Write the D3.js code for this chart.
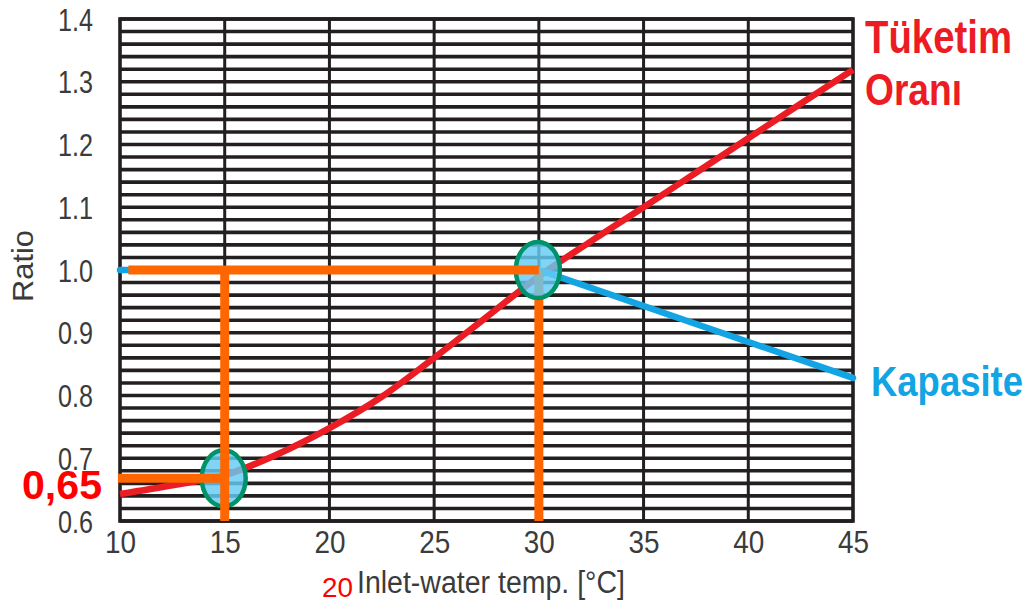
<!DOCTYPE html>
<html>
<head>
<meta charset="utf-8">
<script src="https://cdn.jsdelivr.net/npm/d3@7"></script>
<style>
  body { margin: 0; background: #fff; }
  svg { display: block; }
  text { font-family: "Liberation Sans Narrow", "Arial Narrow", "Liberation Sans", Arial, sans-serif; }
</style>
</head>
<body>
<svg></svg>
<script>
const width = 1030;
const height = 604;

// inlet water temperature (°C) vs ratio
const tempTicks = [10, 15, 20, 25, 30, 35, 40, 45];
const ratioTicks = [0.6, 0.7, 0.8, 0.9, 1.0, 1.1, 1.2, 1.3, 1.4];

const consumptionTemp = [10, 12.5, 15, 17.5, 20, 22.5, 25, 27.5, 30, 32.5, 35, 37.5, 40, 42.5, 45];
const consumptionRatio = [0.643, 0.657, 0.673, 0.706, 0.748, 0.798, 0.86, 0.925, 0.99, 1.046, 1.10, 1.155, 1.21, 1.265, 1.319];

const capacityTemp = [10, 30, 45];
const capacityRatio = [1.0, 1.0, 0.828];

const markTemp = [15, 30];
const markRatio = [0.668, 1.0];

const svg = d3.select('svg')
    .attr('width', width).attr('height', height);

const x = d3.scaleLinear().domain([10, 45]).range([120, 853]);
const y = d3.scaleLinear().domain([0.6, 1.4]).range([521, 19]);

const black = '#231f20';
const orange = '#ff6600';
const red = '#ec1c24';
const blue = '#13a4e3';

// grid: horizontal every 0.02, vertical every 5
const hLines = d3.range(0, 41).map(i => 0.6 + i * 0.02);
svg.append('g').selectAll('line')
    .data(hLines)
    .enter().append('line')
    .attr('x1', x(10)).attr('x2', x(45))
    .attr('y1', d => y(d)).attr('y2', d => y(d))
    .style('stroke', black)
    .style('stroke-width', 3.6);

svg.append('g').selectAll('line')
    .data(tempTicks.slice(1, -1))
    .enter().append('line')
    .attr('x1', d => x(d)).attr('x2', d => x(d))
    .attr('y1', y(1.4)).attr('y2', y(0.6))
    .style('stroke', black)
    .style('stroke-width', 3);

svg.append('rect')
    .attr('x', x(10)).attr('y', y(1.4))
    .attr('width', x(45) - x(10)).attr('height', y(0.6) - y(1.4))
    .style('fill', 'none')
    .style('stroke', black)
    .style('stroke-width', 3.6);

// axes
const xAxis = svg.append('g')
    .attr('transform', `translate(0,${y(0.6)})`)
    .call(d3.axisBottom(x).tickValues(tempTicks).tickSize(0).tickPadding(0));
xAxis.selectAll('text')
    .attr('y', 32).attr('dy', 0)
    .attr('textLength', 31).attr('lengthAdjust', 'spacingAndGlyphs')
    .style('font-size', '31px')
    .style('fill', '#3b3b3b');

const yAxis = svg.append('g')
    .attr('transform', `translate(93,0)`)
    .call(d3.axisLeft(y).tickValues(ratioTicks).tickFormat(d3.format('.1f')).tickSize(0).tickPadding(0));
yAxis.selectAll('text')
    .attr('dy', '0.36em')
    .attr('textLength', 35).attr('lengthAdjust', 'spacingAndGlyphs')
    .style('font-size', '31px')
    .style('fill', '#3b3b3b');
svg.selectAll('.domain').remove();

svg.append('text')
    .attr('x', 357).attr('y', 593)
    .attr('textLength', 268).attr('lengthAdjust', 'spacingAndGlyphs')
    .style('font-size', '31px')
    .style('fill', '#3b3b3b')
    .text('Inlet-water temp. [°C]');

svg.append('text')
    .attr('x', 322).attr('y', 597)
    .attr('textLength', 31).attr('lengthAdjust', 'spacingAndGlyphs')
    .style('font-family', '"Liberation Sans", Arial, sans-serif')
    .style('font-size', '28px')
    .style('fill', '#ff0000')
    .text('20');

svg.append('text')
    .attr('transform', 'translate(33,266) rotate(-90)')
    .attr('text-anchor', 'middle')
    .attr('textLength', 72).attr('lengthAdjust', 'spacingAndGlyphs')
    .style('font-size', '29px')
    .style('fill', '#3b3b3b')
    .text('Ratio');

// curves
const line = d3.line()
    .x(d => x(d[0]))
    .y(d => y(d[1]));

svg.append('path')
    .datum(consumptionTemp.map((t, i) => [t, consumptionRatio[i]]))
    .attr('d', line.curve(d3.curveMonotoneX))
    .style('fill', 'none')
    .style('stroke', red)
    .style('stroke-width', 6.5);

svg.append('path')
    .datum(capacityTemp.map((t, i) => [t, capacityRatio[i]]))
    .attr('d', line.curve(d3.curveLinear))
    .style('fill', 'none')
    .style('stroke', blue)
    .style('stroke-width', 6.5)
    .style('stroke-linecap', 'round');

// orange guide lines
function guide(x1, y1, x2, y2) {
    svg.append('line')
        .attr('x1', x(x1)).attr('y1', y(y1))
        .attr('x2', x(x2)).attr('y2', y(y2))
        .style('stroke', orange)
        .style('stroke-width', 9);
}

guide(markTemp[1], markRatio[1], markTemp[1], 0.6);

svg.append('g').selectAll('ellipse')
    .data(markTemp.map((t, i) => [t, markRatio[i]]))
    .enter().append('ellipse')
    .attr('cx', d => x(d[0]) - 1)
    .attr('cy', d => y(d[1]))
    .attr('rx', 22).attr('ry', 28)
    .style('fill', 'rgba(100, 204, 244, 0.82)')
    .style('stroke', '#00936a')
    .style('stroke-width', 4.5);

guide(10.4, markRatio[1], markTemp[1], markRatio[1]);
guide(markTemp[0], markRatio[1], markTemp[0], 0.6);
guide(9.9, markRatio[0], markTemp[0], markRatio[0]);

// labels (bold, stretched a little vertically like the source)
function bigLabel(txt, px, py, size, sy, len, color) {
    svg.append('text')
        .attr('transform', `translate(${px},${py}) scale(1,${sy})`)
        .attr('textLength', len).attr('lengthAdjust', 'spacingAndGlyphs')
        .style('font-family', '"Liberation Sans", Arial, sans-serif')
        .style('font-weight', 'bold')
        .style('font-size', size + 'px')
        .style('fill', color)
        .text(txt);
}

bigLabel('0,65', 22, 499, 40, 1, 80, '#ff0000');
bigLabel('Tüketim', 865, 53, 38.5, 1.2, 147, red);
bigLabel('Oranı', 865, 105, 37, 1.2, 97, red);
bigLabel('Kapasite', 871, 396, 36.5, 1.15, 152, blue);
</script>
</body>
</html>
